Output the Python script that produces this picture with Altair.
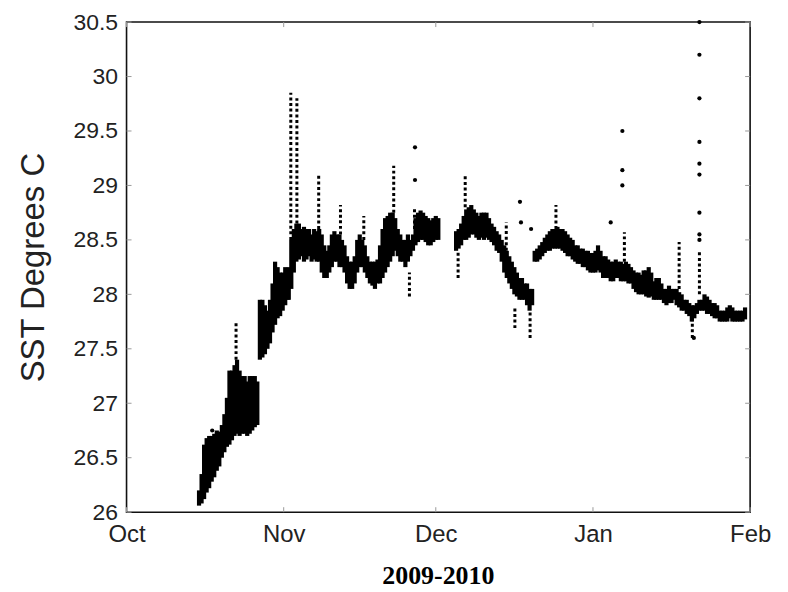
import altair as alt
import pandas as pd

# ---------------- data ----------------
# x: days since 1 Oct 2009, y: SST in degrees C
month_days = [0, 31, 61, 92, 123]
month_labels = ["Oct", "Nov", "Dec", "Jan", "Feb"]
y_ticks = [26, 26.5, 27, 27.5, 28, 28.5, 29, 29.5, 30, 30.5]
caption = "2009-2010"
y_title = "SST Degrees C"

# dense band of observations: day, lowest value, highest value
band_day = [14.3, 14.8, 15.3, 15.8, 16.3, 16.8, 17.3, 17.8, 18.3, 18.8, 19.3, 19.8,
            20.3, 20.8, 21.3, 21.8, 22.3, 22.8, 23.3, 23.8, 24.3, 24.8, 25.3, 25.8,
            26.3, 26.8, 27.3, 27.8, 28.3, 28.8, 29.3, 29.8, 30.3, 30.8, 31.3, 31.8,
            32.0, 32.5, 33.0, 33.5, 34.0, 34.5, 35.0, 35.5, 36.0, 36.5, 37.0, 37.5,
            38.0, 38.5, 39.0, 39.5, 40.0, 40.5, 41.0, 41.5, 42.0, 42.5, 43.0, 43.5,
            44.0, 44.5, 45.0, 45.5, 46.0, 46.5, 47.0, 47.5, 48.0, 48.5, 49.0, 49.5,
            50.0, 50.5, 51.0, 51.5, 52.0, 52.5, 53.0, 53.5, 54.0, 54.5, 55.0, 55.5,
            56.0, 56.5, 57.0, 57.5, 58.0, 58.5, 59.0, 59.5, 60.0, 60.5, 61.0, 61.5,
            65.0, 65.5, 66.0, 66.5, 67.0, 67.5, 68.0, 68.5, 69.0, 69.5, 70.0, 70.5,
            71.0, 71.5, 72.0, 72.5, 73.0, 73.5, 74.0, 74.5, 75.0, 75.5, 76.0, 76.5,
            77.0, 77.5, 78.0, 78.5, 79.0, 79.5, 80.0, 80.5, 81.0, 81.5, 82.0, 82.5,
            83.0, 83.5, 84.0, 84.5, 85.0, 85.5, 86.0, 86.5, 87.0, 87.5, 88.0, 88.5,
            89.0, 89.5, 90.0, 90.5, 91.0, 91.5, 92.0, 92.5, 93.0, 93.5, 94.0, 94.5,
            95.0, 95.5, 96.0, 96.5, 97.0, 97.5, 98.0, 98.5, 99.0, 99.5, 100.0, 100.5,
            101.0, 101.5, 102.0, 102.5, 103.0, 103.5, 104.0, 104.5, 105.0, 105.5, 106.0, 106.5,
            107.0, 107.5, 108.0, 108.5, 109.0, 109.5, 110.0, 110.5, 111.0, 111.5, 112.0, 112.5,
            113.0, 113.5, 114.0, 114.5, 115.0, 115.5, 116.0, 116.5, 117.0, 117.5, 118.0, 118.5,
            119.0, 119.5, 120.0, 120.5, 121.0, 121.5, 122.0]
band_lo = [26.06, 26.08, 26.12, 26.18, 26.22, 26.28, 26.32, 26.38, 26.42, 26.50, 26.55, 26.60,
           26.62, 26.66, 26.70, 26.72, 26.70, 26.72, 26.72, 26.70, 26.72, 26.75, 26.78, 26.80,
           27.40, 27.42, 27.45, 27.50, 27.55, 27.65, 27.72, 27.78, 27.80, 27.85, 27.90, 27.95,
           27.95, 28.05, 28.20, 28.30, 28.32, 28.35, 28.30, 28.32, 28.35, 28.30, 28.32, 28.30,
           28.30, 28.20, 28.15, 28.15, 28.20, 28.25, 28.30, 28.30, 28.25, 28.25, 28.20, 28.10,
           28.05, 28.05, 28.10, 28.20, 28.25, 28.25, 28.20, 28.15, 28.10, 28.08, 28.05, 28.10,
           28.10, 28.15, 28.20, 28.25, 28.30, 28.35, 28.40, 28.35, 28.30, 28.30, 28.25, 28.30,
           28.35, 28.40, 28.45, 28.48, 28.50, 28.50, 28.48, 28.45, 28.45, 28.48, 28.50, 28.50,
           28.40, 28.42, 28.45, 28.50, 28.50, 28.52, 28.55, 28.55, 28.52, 28.50, 28.52, 28.50,
           28.52, 28.50, 28.48, 28.45, 28.40, 28.38, 28.30, 28.20, 28.15, 28.10, 28.05, 28.00,
           27.98, 27.95, 27.95, 27.95, 27.90, 27.85, 27.90, 28.30, 28.30, 28.32, 28.35, 28.38,
           28.40, 28.40, 28.42, 28.42, 28.42, 28.42, 28.40, 28.38, 28.35, 28.35, 28.32, 28.30,
           28.28, 28.28, 28.25, 28.25, 28.22, 28.20, 28.20, 28.20, 28.22, 28.20, 28.15, 28.15,
           28.15, 28.12, 28.12, 28.15, 28.15, 28.12, 28.12, 28.12, 28.10, 28.10, 28.05, 28.02,
           28.00, 28.00, 28.00, 27.98, 27.97, 27.98, 27.95, 27.95, 27.95, 27.95, 27.92, 27.90,
           27.92, 27.92, 27.95, 27.90, 27.88, 27.85, 27.85, 27.82, 27.80, 27.75, 27.78, 27.82,
           27.85, 27.85, 27.85, 27.82, 27.82, 27.80, 27.78, 27.78, 27.75, 27.75, 27.75, 27.75,
           27.78, 27.75, 27.75, 27.75, 27.75, 27.75, 27.77]
band_hi = [26.20, 26.35, 26.62, 26.68, 26.70, 26.70, 26.72, 26.75, 26.74, 26.80, 26.90, 27.05,
           27.30, 27.30, 27.35, 27.40, 27.30, 27.25, 27.25, 27.20, 27.25, 27.25, 27.25, 27.20,
           27.95, 27.95, 27.90, 27.85, 27.95, 28.10, 28.30, 28.25, 28.20, 28.20, 28.25, 28.10,
           28.25, 28.50, 28.60, 28.65, 28.65, 28.60, 28.62, 28.60, 28.60, 28.55, 28.60, 28.58,
           28.60, 28.55, 28.45, 28.40, 28.45, 28.55, 28.58, 28.55, 28.55, 28.50, 28.45, 28.35,
           28.30, 28.30, 28.35, 28.50, 28.55, 28.50, 28.45, 28.35, 28.30, 28.30, 28.30, 28.32,
           28.45, 28.60, 28.70, 28.72, 28.75, 28.75, 28.70, 28.60, 28.55, 28.50, 28.50, 28.55,
           28.50, 28.55, 28.70, 28.75, 28.77, 28.75, 28.72, 28.70, 28.68, 28.70, 28.72, 28.70,
           28.58, 28.60, 28.65, 28.72, 28.78, 28.80, 28.82, 28.78, 28.75, 28.72, 28.75, 28.75,
           28.75, 28.70, 28.65, 28.62, 28.58, 28.55, 28.50, 28.45, 28.40, 28.35, 28.30, 28.25,
           28.20, 28.15, 28.15, 28.10, 28.10, 28.05, 28.05, 28.40, 28.42, 28.45, 28.48, 28.52,
           28.55, 28.58, 28.60, 28.60, 28.62, 28.60, 28.60, 28.58, 28.55, 28.52, 28.50, 28.45,
           28.45, 28.42, 28.42, 28.40, 28.40, 28.38, 28.38, 28.40, 28.45, 28.40, 28.35, 28.35,
           28.32, 28.30, 28.30, 28.32, 28.30, 28.30, 28.28, 28.30, 28.28, 28.25, 28.22, 28.20,
           28.20, 28.18, 28.22, 28.22, 28.25, 28.20, 28.12, 28.15, 28.15, 28.10, 28.05, 28.05,
           28.08, 28.05, 28.05, 28.05, 28.02, 28.00, 27.95, 27.95, 27.92, 27.90, 27.90, 27.92,
           27.95, 27.95, 28.00, 27.98, 27.95, 27.92, 27.92, 27.90, 27.85, 27.85, 27.85, 27.88,
           27.90, 27.88, 27.85, 27.85, 27.85, 27.85, 27.88]

# sparse vertical runs of readings (spikes): day, lowest, highest
run_day = [21.6, 32.4, 33.6, 37.9, 42.2, 46.8, 52.7, 55.8, 56.8, 65.4, 66.8,
           74.9, 76.6, 79.6, 84.7, 98.2, 109.0, 113.0, 111.6]
run_lo = [27.40, 28.50, 28.60, 28.60, 28.55, 28.50, 28.75, 27.98, 28.60, 28.15, 28.80,
          28.40, 27.69, 27.60, 28.60, 28.30, 28.05, 28.00, 27.60]
run_hi = [27.75, 29.85, 29.80, 29.10, 28.82, 28.72, 29.18, 28.20, 28.80, 28.40, 29.10,
          28.66, 27.87, 27.85, 28.82, 28.57, 28.48, 28.40, 27.78]

# isolated readings
pt_day = [56.9, 56.9, 77.6, 77.8, 79.8, 95.5, 97.8, 97.8, 97.8,
          113.0, 113.0, 113.0, 113.0, 113.0, 113.0, 113.0, 113.0, 113.0, 111.9, 16.9]
pt_val = [29.35, 29.05, 28.85, 28.66, 28.60, 28.66, 29.50, 29.14, 29.00,
          30.50, 30.20, 29.80, 29.40, 29.20, 29.10, 28.75, 28.55, 28.50, 27.60, 26.75]

# ---------------- chart ----------------
W, H = 626, 492
FONT = "Liberation Sans"
INK = "#000000"

band = pd.DataFrame({"day": band_day, "lo": band_lo, "hi": band_hi})
runs = pd.DataFrame({"day": run_day, "lo": run_lo, "hi": run_hi})
pts = pd.DataFrame({"day": pt_day, "lo": pt_val})
yt = pd.DataFrame({"lo": y_ticks})
xt = pd.DataFrame({"day": month_days})
cap = pd.DataFrame({"caption": [caption]})

label_expr = " : ".join(
    f"datum.value == {d} ? '{m}'" for d, m in zip(month_days, month_labels)
) + " : ''"

xscale = alt.Scale(domain=[0, 123], nice=False, zero=False)
yscale = alt.Scale(domain=[26, 30.5], nice=False, zero=False)

xaxis = alt.Axis(values=month_days, labelExpr=label_expr, title=None, grid=False,
                 domain=False, ticks=False, tickSize=0, labelPadding=10,
                 labelFont=FONT, labelFontSize=24, labelColor="#222",
                 labelFlush=False, labelOverlap=False)
yaxis = alt.Axis(values=y_ticks, format="~g", title=y_title, grid=False, domain=False,
                 ticks=False, tickSize=0, labelPadding=9, labelFont=FONT,
                 labelFontSize=23, labelColor="#222", labelFlush=False,
                 labelOverlap=False, titleFont=FONT, titleFontSize=33,
                 titleFontWeight="normal", titleColor="#222", titlePadding=23)


def X(field="day"):
    return alt.X(f"{field}:Q", scale=xscale, axis=xaxis)


def Y(field="lo"):
    return alt.Y(f"{field}:Q", scale=yscale, axis=yaxis)


band_layer = alt.Chart(band).mark_rule(color=INK, strokeWidth=4.2, strokeCap="butt").encode(
    x=X(), y=Y(), y2="hi:Q")

run_layer = alt.Chart(runs).mark_rule(color=INK, strokeWidth=3, strokeCap="butt",
                                      strokeDash=[3, 2.6]).encode(
    x=X(), y=Y(), y2="hi:Q")

pt_layer = alt.Chart(pts).mark_circle(color=INK, size=18, opacity=1).encode(
    x=X(), y=Y())

tick_col = "#9a9a9a"
ytick_l = alt.Chart(yt).mark_rule(color=tick_col, strokeWidth=1).encode(
    y=Y(), x=alt.value(0), x2=alt.value(5))
ytick_r = alt.Chart(yt).mark_rule(color=tick_col, strokeWidth=1).encode(
    y=Y(), x=alt.value(W - 5), x2=alt.value(W))
xtick_b = alt.Chart(xt).mark_rule(color=tick_col, strokeWidth=1).encode(
    x=X(), y=alt.value(H - 5), y2=alt.value(H))
xtick_t = alt.Chart(xt).mark_rule(color=tick_col, strokeWidth=1).encode(
    x=X(), y=alt.value(0), y2=alt.value(5))

cap_layer = alt.Chart(cap).mark_text(font="Liberation Serif", fontSize=26,
                                     fontWeight="bold", color=INK,
                                     align="center", baseline="alphabetic").encode(
    text="caption:N", x=alt.value(W / 2), y=alt.value(H + 72))

chart = alt.layer(
    ytick_l, ytick_r, xtick_b, xtick_t, band_layer, run_layer, pt_layer, cap_layer
).properties(
    width=W, height=H,
    autosize=alt.AutoSizeParams(type="none"),
    padding={"left": 119, "top": 13, "right": 30, "bottom": 78},
    background="white",
).configure_view(stroke="#111", strokeWidth=1.6)

chart.save("out.html", embed_options={"renderer": "svg", "actions": False})
